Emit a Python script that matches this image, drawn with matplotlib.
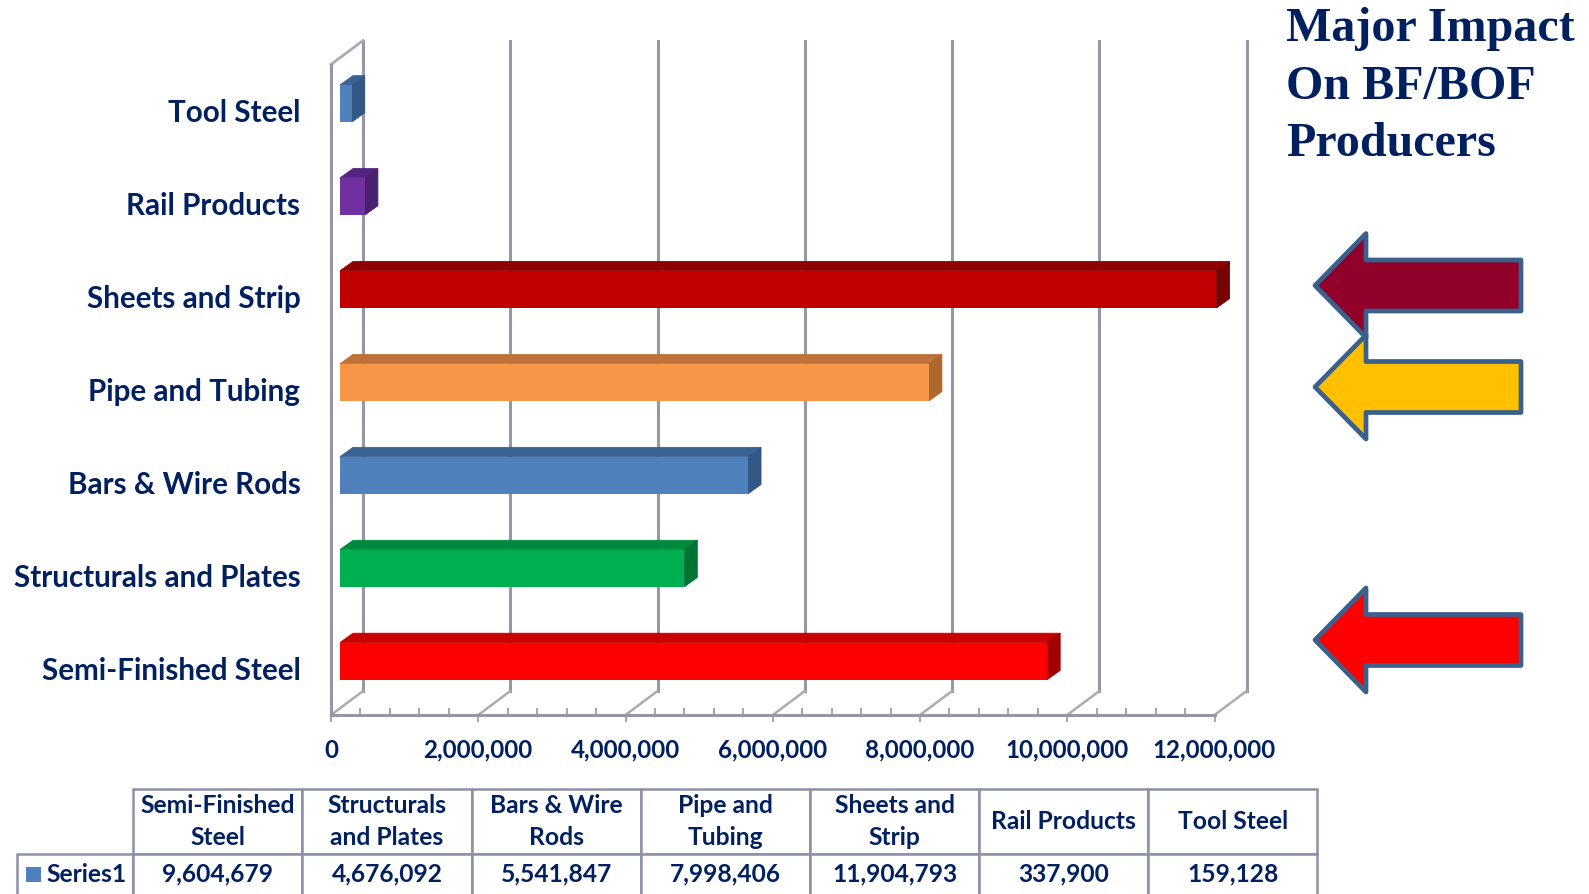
import matplotlib
matplotlib.use("Agg")
import matplotlib.pyplot as plt
from matplotlib.patches import Polygon, Rectangle
from matplotlib.ticker import FuncFormatter, MultipleLocator

W, H = 1589, 894

categories = ["Semi-Finished Steel", "Structurals and Plates", "Bars & Wire Rods",
              "Pipe and Tubing", "Sheets and Strip", "Rail Products", "Tool Steel"]
table_heads = ["Semi-Finished\nSteel", "Structurals\nand Plates", "Bars & Wire\nRods",
               "Pipe and\nTubing", "Sheets and\nStrip", "Rail Products", "Tool Steel"]
values = [9604679, 4676092, 5541847, 7998406, 11904793, 337900, 159128]
front_colors = ["#FF0000", "#00B050", "#4F81BD", "#F79646", "#C00000", "#7030A0", "#4F81BD"]
top_colors = ["#C80000", "#008A3E", "#3A6294", "#BC7238", "#8F0000", "#552480", "#3A6294"]
side_colors = ["#A00000", "#007434", "#335886", "#AD682F", "#780000", "#4A2070", "#335886"]
impact_lines = ["Major Impact", "On BF/BOF", "Producers"]

NAVY = "#002060"
GRID = "#9696A4"
TABLE_LINE = "#8C90A8"
FONT = "Lato"


def px_box(x0, y0, x1, y1):
    # figure fractions from pixel edges, y counted from the top
    return [x0 / W, 1 - y1 / H, (x1 - x0) / W, (y1 - y0) / H]


fig = plt.figure(figsize=(W / 100, H / 100), dpi=100, facecolor="white")

# chart axes: the front plane of the box
ax = fig.add_axes(px_box(331, 64.5, 1214.5, 715))
ax.set_xlim(0, 12000000)
ax.set_ylim(-0.5, 6.5)
ax.patch.set_visible(False)

# depth of the box and of the bars, in data units
wall_dx, wall_dy = 435000, 0.258
bar_dx, bar_dy = 177000, 0.10
bar_x0, bar_y0 = 122000, 0.08
bar_h = 0.40

for tick in range(0, 12000001, 2000000):
    ax.plot([tick + wall_dx] * 2, [-0.5 + wall_dy, 6.5 + wall_dy], color=GRID, lw=2.2,
            clip_on=False, zorder=1)
    ax.plot([tick, tick + wall_dx], [-0.5, -0.5 + wall_dy], color="#ABABB4", lw=1.8,
            clip_on=False, zorder=1)
ax.plot([0, wall_dx], [6.5, 6.5 + wall_dy], color="#ABABB4", lw=2, clip_on=False, zorder=1)

for i, v in enumerate(values):
    y0 = i + bar_y0 - bar_h / 2
    y1 = i + bar_y0 + bar_h / 2
    x1 = bar_x0 + v
    ax.add_patch(Polygon([(bar_x0, y1), (x1, y1), (x1 + bar_dx, y1 + bar_dy),
                          (bar_x0 + bar_dx, y1 + bar_dy)], color=top_colors[i], lw=0.6,
                         zorder=3, clip_on=False))
    ax.add_patch(Polygon([(x1, y0), (x1, y1), (x1 + bar_dx, y1 + bar_dy), (x1 + bar_dx, y0 + bar_dy)],
                         color=side_colors[i], lw=0.6, zorder=3, clip_on=False))
    # bars start inside the box, so the longest one runs past the 12M limit
    ax.barh(i + bar_y0, v, left=bar_x0, height=bar_h, color=front_colors[i], zorder=4,
            clip_on=False)

for side in ("top", "right"):
    ax.spines[side].set_visible(False)
for side in ("left", "bottom"):
    ax.spines[side].set_color(GRID)
    ax.spines[side].set_linewidth(2.2)

ax.xaxis.set_major_locator(MultipleLocator(2000000))
ax.xaxis.set_minor_locator(MultipleLocator(400000))
ax.xaxis.set_major_formatter(FuncFormatter(lambda v, _: f"{int(v):,}"))
ax.tick_params(axis="x", which="major", direction="out", length=5, width=1.2, color=GRID, pad=12,
               labelsize=17.4, labelcolor=NAVY)
ax.tick_params(axis="x", which="minor", direction="in", length=5, width=1.2, color=GRID)
ax.set_yticks(range(len(categories)), categories)
ax.tick_params(axis="y", length=0, pad=22, labelsize=21.3, labelcolor=NAVY)
for lab in ax.get_xticklabels() + ax.get_yticklabels():
    lab.set_fontfamily(FONT)
    lab.set_fontweight("bold")

# data table under the chart
tax = fig.add_axes(px_box(16.5, 789, 1317.5, 894))
tax.axis("off")
first_col = ["", "Series1"]
rows = [first_col[:1] + table_heads,
        first_col[1:] + [f"{v:,}" for v in values]]
col_widths = [116.5] + [169.0] * 7
row_heights = [65, 40]
tbl = tax.table(cellText=rows, colWidths=col_widths, cellLoc="center", bbox=[0, 0, 1, 1])
tbl.auto_set_font_size(False)
for (r, c), cell in tbl.get_celld().items():
    cell.set_height(row_heights[r])
    cell.set_edgecolor(TABLE_LINE)
    cell.set_linewidth(1.8)
    cell.visible_edges = "LTR" if r == 1 else "closed"
    txt = cell.get_text()
    txt.set(fontfamily=FONT, fontweight="bold", fontsize=17.7, color=NAVY, linespacing=1.5)
corner = tbl[0, 0]
corner.visible_edges = "open"
series_cell = tbl[1, 0]
series_cell.set_text_props(ha="left")
series_cell.PAD = 30 / 116.5
series_cell._loc = "left"

# pixel overlay for the legend key, the heading and the callout arrows
over = fig.add_axes([0, 0, 1, 1])
over.set_xlim(0, W)
over.set_ylim(H, 0)
over.axis("off")
over.patch.set_visible(False)
over.add_patch(Rectangle((26, 867), 15, 15, color="#4F81BD", lw=0))

for line, y in zip(impact_lines, [29, 87, 144]):
    over.text(1286, y, line, family="Liberation Serif", weight="bold", fontsize=34.6,
              color=NAVY, va="center", ha="left")

arrow_colors = ["#900028", "#FFC000", "#FF0000"]
arrow_centres = [285.5, 387, 640]
for col, yc in zip(arrow_colors, arrow_centres):
    over.add_patch(Polygon([(1315, yc), (1366, yc - 52), (1366, yc - 25.5), (1521, yc - 25.5),
                            (1521, yc + 25.5), (1366, yc + 25.5), (1366, yc + 52)],
                           closed=True, facecolor=col, edgecolor="#3B608C", lw=3.4,
                           joinstyle="round"))

fig.savefig("out.png", dpi=100)
